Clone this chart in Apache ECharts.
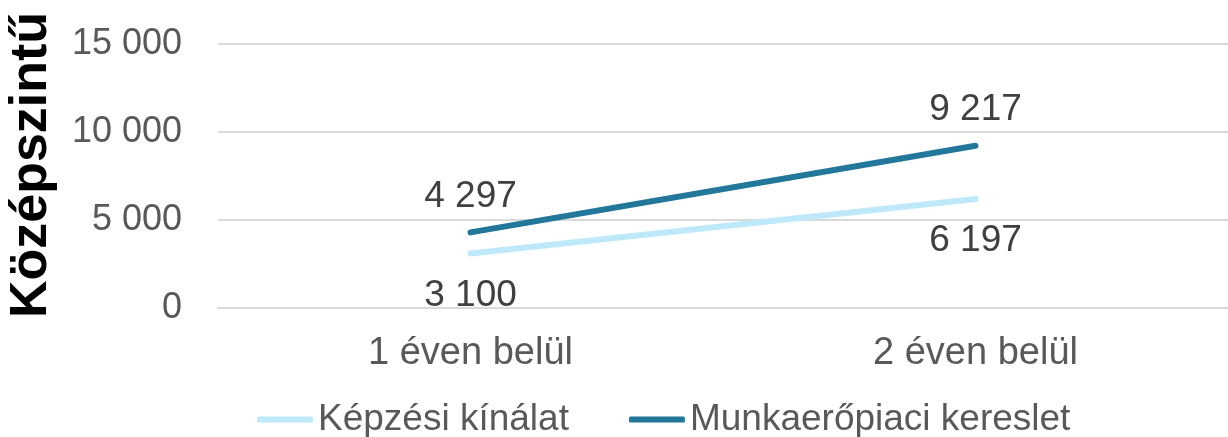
<!DOCTYPE html>
<html>
<head>
<meta charset="utf-8">
<script src="https://cdn.jsdelivr.net/npm/echarts@6/dist/echarts.min.js"></script>
<style>html,body{margin:0;padding:0;background:#fff}#c{width:1228px;height:437px}</style>
</head>
<body>
<div id="c"></div>
<script>
const categories = ['1 éven belül', '2 éven belül'];
const seriesNames = ['Képzési kínálat', 'Munkaerőpiaci kereslet'];
const kepzesi = [3100, 6197];
const munkaero = [4297, 9217];
const yTicks = [0, 5000, 10000, 15000];
const yAxisTitle = 'Középszintű';

const fmt = v => String(v).replace(/\B(?=(\d{3})+(?!\d))/g, ' ');
const FONT = '"Liberation Sans", Arial, sans-serif';
const FS = 37;

const chart = echarts.init(document.getElementById('c'), null, {renderer: 'canvas'});
chart.setOption({
  animation: false,
  backgroundColor: '#ffffff',
  textStyle: {fontFamily: FONT},
  grid: {left: 218, top: 44, width: 1016, height: 264, containLabel: false},
  graphic: [{
    type: 'text',
    x: 32, y: 165,
    rotation: Math.PI / 2,
    style: {
      text: yAxisTitle, fontFamily: FONT, fontSize: 52, fontWeight: 'bold',
      fill: '#000000', align: 'center', verticalAlign: 'middle'
    }
  }],
  xAxis: {
    type: 'category',
    data: categories,
    boundaryGap: true,
    axisLine: {show: true, lineStyle: {color: '#D9D9D9', width: 2}},
    axisTick: {show: false},
    axisLabel: {color: '#595959', fontSize: 38, margin: 27, fontFamily: FONT}
  },
  yAxis: {
    type: 'value',
    min: yTicks[0], max: yTicks[yTicks.length - 1], interval: 5000,
    axisLine: {show: false},
    axisTick: {show: false},
    splitLine: {lineStyle: {color: '#D9D9D9', width: 2}},
    axisLabel: {color: '#595959', fontSize: 36, margin: 36, fontFamily: FONT, formatter: fmt}
  },
  legend: {
    data: [
      {name: seriesNames[0], icon: 'roundRect'},
      {name: seriesNames[1], icon: 'roundRect'}
    ],
    left: 252, top: 396,
    itemWidth: 56, itemHeight: 6, itemGap: 60,
    textStyle: {color: '#595959', fontSize: FS, fontFamily: FONT}
  },
  series: [
    {
      name: seriesNames[0], type: 'line', data: kepzesi,
      symbol: 'circle', symbolSize: 1,
      lineStyle: {color: '#BDE9FB', width: 6, cap: 'round'},
      itemStyle: {color: '#BDE9FB'},
      label: {show: true, position: 'bottom', distance: 23, color: '#404040', fontSize: FS, fontFamily: FONT, formatter: p => fmt(p.value)}
    },
    {
      name: seriesNames[1], type: 'line', data: munkaero,
      symbol: 'circle', symbolSize: 1,
      lineStyle: {color: '#23779A', width: 6, cap: 'round'},
      itemStyle: {color: '#23779A'},
      label: {show: true, position: 'top', distance: 17, color: '#404040', fontSize: FS, fontFamily: FONT, formatter: p => fmt(p.value)}
    }
  ]
});
</script>
</body>
</html>
